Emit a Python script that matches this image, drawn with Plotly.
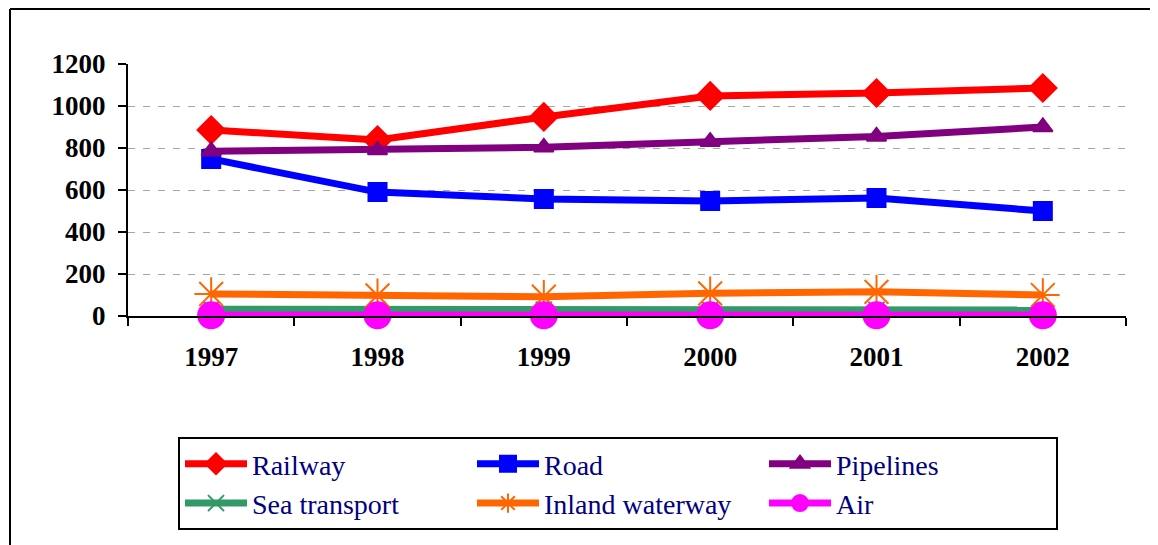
import plotly.graph_objects as go

years = ["1997", "1998", "1999", "2000", "2001", "2002"]
railway = [886, 838, 948, 1048, 1062, 1086]
road = [748, 590, 557, 548, 562, 500]
pipelines = [785, 790, 803, 830, 855, 900]
sea_transport = [32, 31, 30, 29, 29, 28]
inland_waterway = [105, 98, 92, 108, 115, 100]
air = [3, 3, 3, 3, 3, 3]

# the page body adds an 8px margin; figure sized so it fills the window
OFF = 8
W, H = 1158 - OFF, 545 - OFF
L, R, T, B = 128 - OFF, 1126 - OFF, 64 - OFF, 316 - OFF

def px_x(p):
    return (p - OFF - L) / (R - L)

def px_y(p):
    return (B - (p - OFF)) / (B - T)

series = [
    ("Railway", railway, "#FF0000", "diamond", 21),
    ("Road", road, "#0000FF", "square", 18),
    ("Pipelines", pipelines, "#800080", "triangle-up", 17),
    ("Sea transport", sea_transport, "#339966", "x-thin-open", 16),
    ("Inland waterway", inland_waterway, "#FF6600", "asterisk-open", 28),
    ("Air", air, "#FF00FF", "circle", 26),
]

fig = go.Figure()
for name, vals, col, sym, sz in series:
    fig.add_trace(go.Scatter(
        x=years, y=vals, name=name, mode="lines+markers",
        line=dict(color=col, width=7),
        marker=dict(symbol=sym, size=sz, color=col,
                    line=dict(color=col, width=2)),
        cliponaxis=False,
    ))

tfont = dict(family="Liberation Serif", size=27, color="black", weight="bold")
fig.update_layout(
    width=W, height=H,
    margin=dict(l=L, r=W - R, t=T, b=H - B),
    plot_bgcolor="white", paper_bgcolor="white",
    showlegend=True,
    legend=dict(
        orientation="h",
        xref="container", yref="container",
        x=(178 - OFF) / W, y=1 - (437 - OFF) / H, xanchor="left", yanchor="top",
        bordercolor="black", borderwidth=2,
        font=dict(family="Liberation Serif", size=28, color="#000080"),
        entrywidth=215, entrywidthmode="pixels",
        itemwidth=62,
        traceorder="normal",
    ),
    xaxis=dict(
        type="category", showline=True, linecolor="black", linewidth=2,
        ticks="outside", ticklen=8, tickwidth=2, tickcolor="black",
        tickson="boundaries", showgrid=False,
        tickfont=tfont,
        ticklabelstandoff=16,
        range=[-0.5, 5.5],
    ),
    yaxis=dict(
        range=[0, 1200], tickvals=[0, 200, 400, 600, 800, 1000, 1200],
        showline=True, linecolor="black", linewidth=2,
        ticks="outside", ticklen=8, tickwidth=2, tickcolor="black",
        showgrid=True, gridcolor="#A6A6A6", griddash="7px,8px", gridwidth=1,
        zeroline=False,
        tickfont=tfont,
        ticklabelstandoff=7,
    ),
)

# outer frame lines (left and top)
fig.add_shape(type="line", xref="paper", yref="paper",
              x0=px_x(10), x1=px_x(10), y0=px_y(9), y1=px_y(560),
              line=dict(color="black", width=2))
fig.add_shape(type="line", xref="paper", yref="paper",
              x0=px_x(10), x1=px_x(1170), y0=px_y(9), y1=px_y(9),
              line=dict(color="black", width=2))

fig.write_html("out.html")
